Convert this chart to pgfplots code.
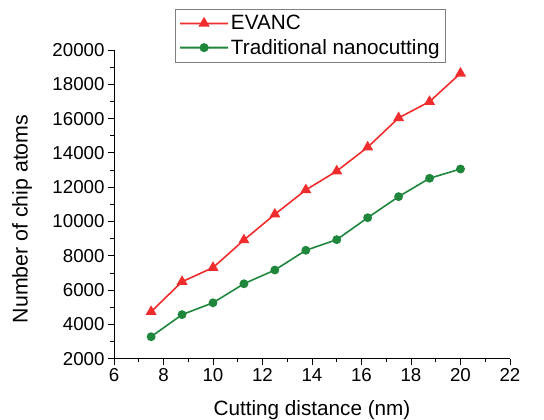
\documentclass[border=0pt]{standalone}
\usepackage{fontspec}
\setmainfont{Liberation Sans}
\usepackage{pgfplots}
\pgfplotsset{compat=1.18}
\definecolor{evred}{RGB}{240,45,45}
\definecolor{trgreen}{RGB}{30,135,60}
\begin{document}
\begin{tikzpicture}
\begin{axis}[
 scale only axis, width=396pt, height=308.7pt,
 at={(0,0)}, anchor=south west,
 xmin=6, xmax=22, ymin=2000, ymax=20000,
 axis lines=left, axis line style={-, line width=0.8pt},
 xtick={6,8,...,22}, ytick={2000,4000,...,20000},
 scaled y ticks=false, scaled x ticks=false,
 minor x tick num=1, minor y tick num=1,
 tick align=outside, major tick length=6pt, minor tick length=3.5pt,
 tick style={black, line width=0.8pt},
 every tick label/.append style={font=\fontsize{18.7}{22}\selectfont},
 /pgf/number format/assume math mode=true,
 /pgf/number format/1000 sep={},
 xlabel={Cutting distance (nm)}, ylabel={Number of chip atoms},
 xlabel style={font=\fontsize{20.7}{24}\selectfont, at={(axis description cs:0.5,-0.183)}, anchor=base},
 ylabel style={font=\fontsize{21.3}{24}\selectfont, at={(axis description cs:-0.232,0.4526)}, anchor=center},
 legend style={at={(axis description cs:0.154,1.132)}, anchor=north west, draw=gray, font=\fontsize{20.7}{24}\selectfont, inner xsep=4pt, inner ysep=4pt, row sep=4pt},
 legend cell align=left,
 legend image post style={line width=1.8pt},
 legend image code/.code={\draw[mark repeat=2,mark phase=2] plot coordinates {(0pt,0.01pt) (24pt,0.01pt) (48pt,0pt)};},
]
\addplot[color=evred, line width=1.6pt, mark=triangle*, mark size=4.8pt, mark options={solid}] coordinates {
(7.5,4740) (8.75,6490) (10,7310) (11.25,8920) (12.5,10420) (13.75,11840) (15,12940) (16.25,14330) (17.5,16040) (18.75,16990) (20,18640)};
\addlegendentry{EVANC}
\addplot[color=trgreen, line width=1.6pt, mark=*, mark size=3.6pt, mark options={solid}] coordinates {
(7.5,3280) (8.75,4570) (10,5260) (11.25,6370) (12.5,7170) (13.75,8320) (15,8940) (16.25,10220) (17.5,11450) (18.75,12520) (20,13060)};
\addlegendentry{Traditional nanocutting}
\end{axis}
\pgfresetboundingbox
\useasboundingbox (-114pt,-61.3pt) rectangle (430pt,358.7pt);
\end{tikzpicture}
\end{document}
